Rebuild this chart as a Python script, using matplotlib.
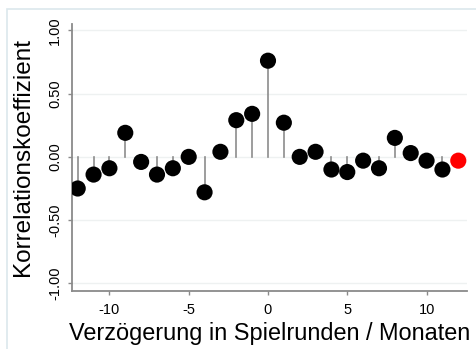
import numpy as np
import matplotlib.pyplot as plt
from matplotlib.patches import Rectangle

plt.rcParams['font.family'] = ['Liberation Sans', 'DejaVu Sans']
plt.rcParams['axes.unicode_minus'] = False

# Cross-correlation by lag (rounds / months)
lags = np.arange(-12, 13)
corr = [-0.25, -0.14, -0.09, 0.19, -0.04, -0.14, -0.09, 0.00, -0.28, 0.04,
        0.29, 0.34, 0.76, 0.27, 0.00, 0.04, -0.10, -0.12, -0.03, -0.09,
        0.15, 0.03, -0.03, -0.10, -0.03]
highlight_lag = 12
yticks = [-1.0, -0.5, 0.0, 0.5, 1.0]
xticks = [-10, -5, 0, 5, 10]

fig = plt.figure(figsize=(4.76, 3.49), dpi=100)
fig.patch.set_facecolor('white')

# faint outer frame, top and left edges only visible
fig.patches.append(Rectangle((7 / 476, -0.1), 1.2, (349 - 9) / 349 + 0.1,
                             transform=fig.transFigure, fill=False,
                             edgecolor='#dce8ec', lw=1.2))

ax = fig.add_axes([72 / 476, (349 - 291) / 349, (467 - 72) / 476, (291 - 24) / 349])

for y in yticks:
    ax.axhline(y, color='#eef1f1', lw=1.0, zorder=0)

for x, v in zip(lags, corr):
    ax.plot([x, x], [0, v], color='#8c8c8c', lw=1.2, zorder=1)

colors = ['red' if x == highlight_lag else 'black' for x in lags]
ax.scatter(lags, corr, s=135, c=colors, zorder=3, linewidths=0)

ax.set_xlim(-12.36, 12.55)
ax.set_ylim(-1.06, 1.05)
ax.set_xticks(xticks)
ax.set_yticks(yticks)
ax.set_yticklabels(['%.2f' % t for t in yticks], rotation=90, va='center')

for s in ['top', 'right']:
    ax.spines[s].set_visible(False)
for s in ['left', 'bottom']:
    ax.spines[s].set_color('#8a8a8a')
    ax.spines[s].set_linewidth(1.3)
ax.tick_params(length=3, width=1, color='#8a8a8a', labelsize=10.5)
ax.tick_params(axis='x', pad=6)
ax.tick_params(axis='y', pad=4)

ax.set_ylabel('Korrelationskoeffizient', fontsize=17.5, labelpad=10)
ax.set_xlabel('Verzögerung in Spielrunden / Monaten', fontsize=16.9, labelpad=3)

fig.savefig('out.png', dpi=100)
